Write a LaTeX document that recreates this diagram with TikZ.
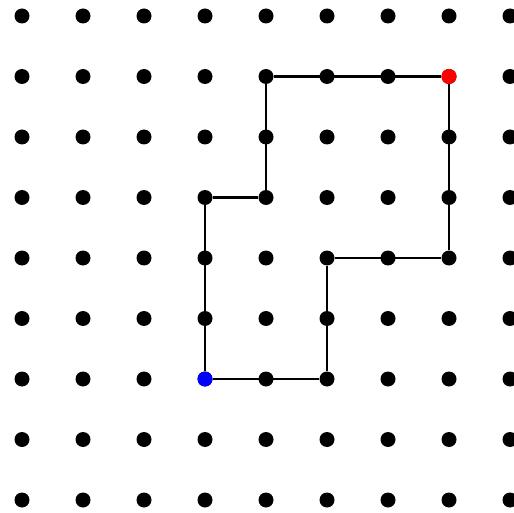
\documentclass[tikz,border=0pt]{standalone}
\begin{document}
\begin{tikzpicture}[x=1pt,y=-1pt,
  dot/.style={circle,fill=black,inner sep=0pt,minimum size=15pt},
  reddot/.style={dot,fill=red},
  bluedot/.style={dot,fill=blue},
  link/.style={line width=2.8pt,black}]
\useasboundingbox (0,0) rectangle (514,513);
\foreach \i in {0,...,8}{
  \foreach \j in {0,...,8}{
    \node[dot] (d-\i-\j) at ({22+61*\i},{16+60.5*\j}) {};
  }
}
\node[reddot] (red) at (d-7-1) {};
\node[bluedot] (blue) at (d-3-6) {};
\draw[link] (red) -- (d-4-1) -- (d-4-3) -- (d-3-3) -- (blue) -- (d-5-6) -- (d-5-4) -- (d-7-4) -- (red);
\end{tikzpicture}
\end{document}
